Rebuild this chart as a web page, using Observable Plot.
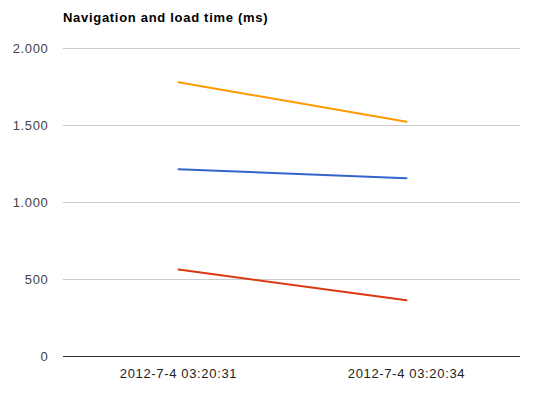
<!DOCTYPE html>
<html><head><meta charset="utf-8">
<script src="https://cdn.jsdelivr.net/npm/d3@7"></script>
<script src="https://cdn.jsdelivr.net/npm/@observablehq/plot@0.6"></script>
<style>
body{margin:0;background:#fff;font-family:Arial,"Liberation Sans",sans-serif;}
#title{height:26px;padding-top:10px;padding-left:63px;line-height:16px;font-weight:bold;font-size:13px;letter-spacing:0.7px;color:#000;}
</style></head><body>
<div id="title">Navigation and load time (ms)</div>
<div id="chart"></div>
<script>
const times = ["2012-7-4 03:20:31", "2012-7-4 03:20:34"];
const seriesNames = ["Series A", "Series B", "Series C"];
const seriesColors = ["#ff9900", "#3366cc", "#dc3912"];
const seriesA = [1781, 1524];
const seriesB = [1216, 1158];
const seriesC = [565, 366];
const yTicks = [0, 500, 1000, 1500, 2000];

const allValues = [seriesA, seriesB, seriesC];
const data = [];
seriesNames.forEach((s, i) => times.forEach((t, j) => data.push({series: s, time: t, value: allValues[i][j]})));

const fmt = d3.formatLocale({decimal: ",", thousands: ".", grouping: [3], currency: ["", ""]}).format(",");

const chart = Plot.plot({
  width: 533, height: 357,
  marginLeft: 63, marginRight: 13, marginTop: 12, marginBottom: 37,
  style: {fontFamily: 'Arial, "Liberation Sans", sans-serif', fontSize: "13px", color: "#444", letterSpacing: "0.65px"},
  x: {type: "point", domain: times, padding: 0.5, label: null, tickSize: 0, tickPadding: 12},
  y: {domain: [0, 2000], ticks: yTicks, tickFormat: fmt, label: null, tickSize: 0, tickPadding: 15},
  color: {domain: seriesNames, range: seriesColors},
  marks: [
    Plot.ruleY(yTicks.filter(d => d > 0), {stroke: "#cccccc", strokeWidth: 1}),
    Plot.ruleY([0], {stroke: "#333333", strokeWidth: 1}),
    Plot.lineY(data, {x: "time", y: "value", z: "series", stroke: "series", strokeWidth: 2}),
    Plot.axisX({tickSize: 0, tickPadding: 12, fill: "#222", fontSize: 13, label: null}),
    Plot.axisY({ticks: yTicks, tickFormat: fmt, tickSize: 0, tickPadding: 15, fill: "#444", fontSize: 13, label: null})
  ]
});
document.getElementById("chart").appendChild(chart);
</script></body></html>
